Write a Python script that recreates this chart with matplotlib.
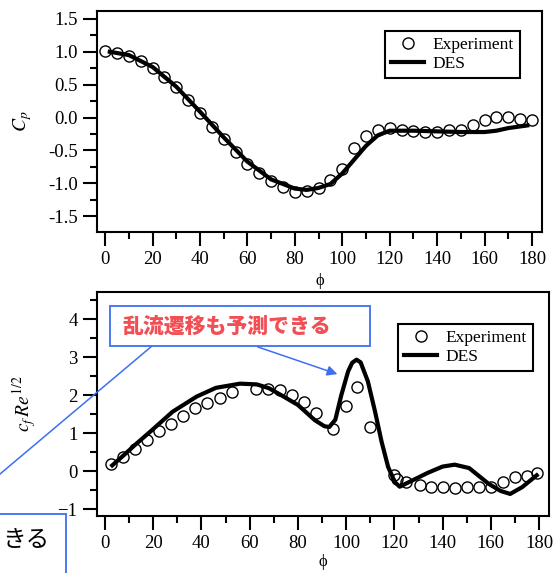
import matplotlib
matplotlib.use("Agg")
import matplotlib.pyplot as plt
from matplotlib.patches import Rectangle, FancyArrowPatch
from matplotlib.lines import Line2D

plt.rcParams['font.family'] = ['Liberation Serif', 'DejaVu Serif']
plt.rcParams['mathtext.fontset'] = 'stix'

# ----------------------------
# data
# ----------------------------

# pressure coefficient
cp_exp_phi = [0, 5, 10, 15, 20, 25, 30, 35, 40, 45, 50, 55, 60, 65, 70, 75,
              80, 85, 90, 95, 100, 105, 110, 115, 120, 125, 130, 135, 140,
              145, 150, 155, 160, 165, 170, 175, 180]
cp_exp = [1.01, 0.98, 0.93, 0.86, 0.76, 0.61, 0.46, 0.26, 0.07, -0.15, -0.33,
          -0.53, -0.70, -0.85, -0.96, -1.06, -1.13, -1.12, -1.07, -0.95, -0.78,
          -0.47, -0.28, -0.185, -0.16, -0.185, -0.21, -0.22, -0.22, -0.195,
          -0.185, -0.12, -0.04, 0.015, 0.015, -0.02, -0.03]

cp_des_phi = [2, 10, 20, 30, 40, 50, 60, 70, 80, 85, 90, 95, 100, 105, 110,
              115, 120, 130, 140, 150, 160, 165, 170, 178]
cp_des = [1.0, 0.95, 0.77, 0.47, 0.09, -0.30, -0.67, -0.94, -1.08, -1.10,
          -1.07, -1.01, -0.85, -0.64, -0.43, -0.27, -0.20, -0.20, -0.21, -0.22,
          -0.22, -0.20, -0.16, -0.12]

# skin friction
cf_exp_phi = [2.5, 7.5, 12.5, 17.5, 22.5, 27.5, 32.5, 37.5, 42.5, 47.5, 52.5,
              62.5, 67.5, 72.5, 77.5, 82.5, 87.5, 94.5, 100, 104.5, 110, 120,
              121, 125, 130.5, 135, 140, 145, 150, 155, 160, 165, 170, 175, 179]
cf_exp = [0.18, 0.37, 0.57, 0.81, 1.05, 1.25, 1.45, 1.65, 1.78, 1.93, 2.07,
          2.16, 2.16, 2.13, 2.0, 1.81, 1.54, 1.12, 1.72, 2.20, 1.16, -0.10,
          -0.20, -0.29, -0.36, -0.41, -0.41, -0.44, -0.41, -0.41, -0.41, -0.29,
          -0.16, -0.13, -0.05]

cf_des_phi = [3, 8, 13, 19, 28, 38, 46, 56, 63, 68, 73, 80, 87, 91, 93, 95.5,
              98, 100.8, 102.5, 104.3, 106, 109, 112, 114.7, 117.4, 120.2,
              122.2, 126, 134, 140, 145, 151, 159, 164, 168, 173, 179]
cf_des = [0.15, 0.43, 0.72, 1.05, 1.56, 1.96, 2.19, 2.30, 2.28, 2.18, 2.0,
          1.74, 1.34, 1.18, 1.16, 1.35, 2.0, 2.62, 2.85, 2.93, 2.86, 2.36,
          1.56, 0.77, 0.11, -0.29, -0.41, -0.29, -0.04, 0.12, 0.17, 0.08,
          -0.33, -0.52, -0.60, -0.42, -0.11]

# ----------------------------
# figure
# ----------------------------
W, H = 557, 573
fig = plt.figure(figsize=(W / 100, H / 100), dpi=100)


def px_box(left, top, right, bottom):
    return [left / W, 1 - bottom / H, (right - left) / W, (bottom - top) / H]


def style(ax):
    for s in ax.spines.values():
        s.set_linewidth(1.5)
    ax.tick_params(which='both', direction='out', width=1.5, labelsize=13.5,
                   top=False, right=False)
    ax.tick_params(which='major', length=10, pad=4)
    ax.tick_params(which='minor', length=5)
    ax.set_xticks(range(0, 181, 20))
    ax.set_xticks(range(10, 181, 20), minor=True)


ax1 = fig.add_axes(px_box(97, 11, 542, 232))
ax1.plot(cp_des_phi, cp_des, color='black', lw=3, label='DES', zorder=2)
ax1.plot(cp_exp_phi, cp_exp, 'o', mfc='none', mec='black', ms=8, mew=1,
         label='Experiment', zorder=3)
ax1.set_xlim(-3.4, 184.2)
ax1.set_ylim(-1.74, 1.62)
ax1.set_yticks([-1.5, -1.0, -0.5, 0.0, 0.5, 1.0, 1.5])
ax1.set_yticks([-1.25, -0.75, -0.25, 0.25, 0.75, 1.25], minor=True)
ax1.set_yticklabels(['-1.5', '-1.0', '-0.5', '0.0', '0.5', '1.0', '1.5'])
style(ax1)
ax1.set_xlabel('ϕ', fontsize=12, labelpad=3)
ax1.set_ylabel(r'$C_p$', fontsize=14, labelpad=10)
h, l = ax1.get_legend_handles_labels()
ax1.legend(h[::-1], l[::-1], loc='upper right', bbox_to_anchor=(0.951, 0.91),
           fancybox=False, framealpha=1, edgecolor='black', fontsize=12.5,
           handlelength=1.9, handletextpad=0.5, borderpad=0.35,
           labelspacing=0.15, borderaxespad=0).get_frame().set_linewidth(1.5)

ax2 = fig.add_axes(px_box(97, 292, 549, 516))
ax2.plot(cf_des_phi, cf_des, color='black', lw=3, label='DES', zorder=2)
ax2.plot(cf_exp_phi, cf_exp, 'o', mfc='none', mec='black', ms=8, mew=1,
         label='Experiment', zorder=3)
ax2.set_xlim(-3.3, 184.1)
ax2.set_ylim(-1.18, 4.71)
ax2.set_yticks(range(-1, 5))
ax2.set_yticks([-0.5, 0.5, 1.5, 2.5, 3.5, 4.5], minor=True)
style(ax2)
ax2.set_xlabel('ϕ', fontsize=12, labelpad=1)
ax2.set_ylabel(r'$c_f\,Re^{1/2}$', fontsize=14, labelpad=14)
h, l = ax2.get_legend_handles_labels()
ax2.legend(h[::-1], l[::-1], loc='upper right', bbox_to_anchor=(0.965, 0.857),
           fancybox=False, framealpha=1, edgecolor='black', fontsize=12.5,
           handlelength=1.9, handletextpad=0.5, borderpad=0.35,
           labelspacing=0.15, borderaxespad=0).get_frame().set_linewidth(1.5)

# ----------------------------
# overlaid callouts
# ----------------------------
blue = '#3d6ff0'
jp = ['Noto Sans CJK JP', 'DejaVu Sans']

fig.add_artist(Line2D([152 / W, 0], [1 - 346 / H, 1 - 474 / H],
                      transform=fig.transFigure, color=blue, lw=1.1, zorder=9))
fig.add_artist(FancyArrowPatch((255 / W, 1 - 346 / H), (340 / W, 1 - 375 / H),
                               transform=fig.transFigure, color=blue, lw=1.1,
                               arrowstyle='-|>,head_length=6,head_width=3',
                               zorder=9))
fig.add_artist(Rectangle((110 / W, 1 - 346 / H), 260 / W, 40 / H,
                         transform=fig.transFigure, facecolor='white',
                         edgecolor=blue, lw=1.3, zorder=10))
fig.text(227 / W, 1 - 327 / H, '乱流遷移も予測できる', family=jp, fontsize=15,
         fontweight='heavy', color='#f24f55', ha='center', va='center',
         zorder=11)

fig.add_artist(Rectangle((-5 / W, -5 / H), 71 / W, (573 - 514 + 5) / H,
                         transform=fig.transFigure, facecolor='white',
                         edgecolor=blue, lw=1.3, zorder=10))
fig.text(2 / W, 1 - 541 / H, 'きる', family=jp, fontsize=17, color='black',
         ha='left', va='center', zorder=11)

fig.savefig('out.png', dpi=100)
